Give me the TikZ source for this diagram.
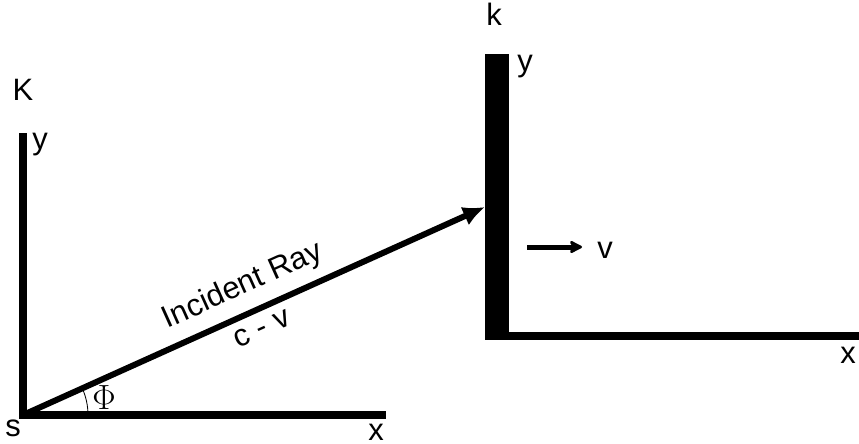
\documentclass[tikz,border=0pt]{standalone}
\usepackage{fontspec}
\setmainfont{Liberation Sans}
\usetikzlibrary{arrows.meta,positioning}

\begin{document}
\begin{tikzpicture}[x=1cm,y=1cm]
\tikzset{
  framelabel/.style={inner sep=0pt,font=\fontsize{22}{26}\selectfont},
  axisline/.style={draw=black,line width=0.2cm,line join=miter},
  mirrorbar/.style={rectangle,fill=black,draw=none,minimum width=0.6cm,minimum height=7.15cm,inner sep=0pt},
  raystyle/.style={draw=black,line width=0.15cm,-{Latex[length=5.5mm,width=5mm]}},
  velocity/.style={draw=black,line width=0.125cm,-{Stealth[length=4mm,width=4mm,round]}},
  anglearc/.style={draw=black,line width=0.6pt}
}
\useasboundingbox (0,0) rectangle (21.475,11.075);
% rest frame K
\coordinate (s) at (0.575,0.70);
\coordinate (K_y) at (0.575,7.75);
\coordinate (K_x) at (9.65,0.70);
\draw[axisline] (K_y) -- (s) -- (K_x);
% moving frame k with mirror
\node[mirrorbar] (mirror) at (12.425,6.15) {};
\coordinate (k_o) at (12.60,2.675);
\coordinate (k_x) at (21.475,2.675);
\draw[axisline] (k_o) -- (k_x);
\coordinate (hit) at (12.125,5.90);
\coordinate (v_a) at (13.175,4.90);
\coordinate (v_b) at (14.55,4.90);
% labels
\node[framelabel] (l_K) at (0.575,8.825) {K};
\node[framelabel] (l_Ky) at (1.00,7.45) {y};
\node[framelabel] (l_s) at (0.325,0.375) {s};
\node[framelabel] (l_Kx) at (9.40,0.26) {x};
\node[framelabel] (l_k) at (12.35,10.725) {k};
\node[framelabel] (l_ky) at (13.125,9.40) {y};
\node[framelabel] (l_kx) at (21.20,2.20) {x};
\node[framelabel] (l_v) at (15.125,4.825) {v};
\node[framelabel,font=\fontsize{24}{28}\selectfont] (l_phi) at (2.60,1.125) {$\Phi$};
% ray and motion
\draw[raystyle] (s) -- (hit)
  node[framelabel,pos=0.5,sloped,above=7pt] (l_ray) {Incident Ray}
  node[framelabel,pos=0.5,sloped,below=6pt] (l_cv) {c - v};
\draw[velocity] (v_a) -- (v_b);
\draw[anglearc] (s) ++(1.625,0) arc[start angle=0,end angle=24.19,radius=1.625];
\end{tikzpicture}
\end{document}
